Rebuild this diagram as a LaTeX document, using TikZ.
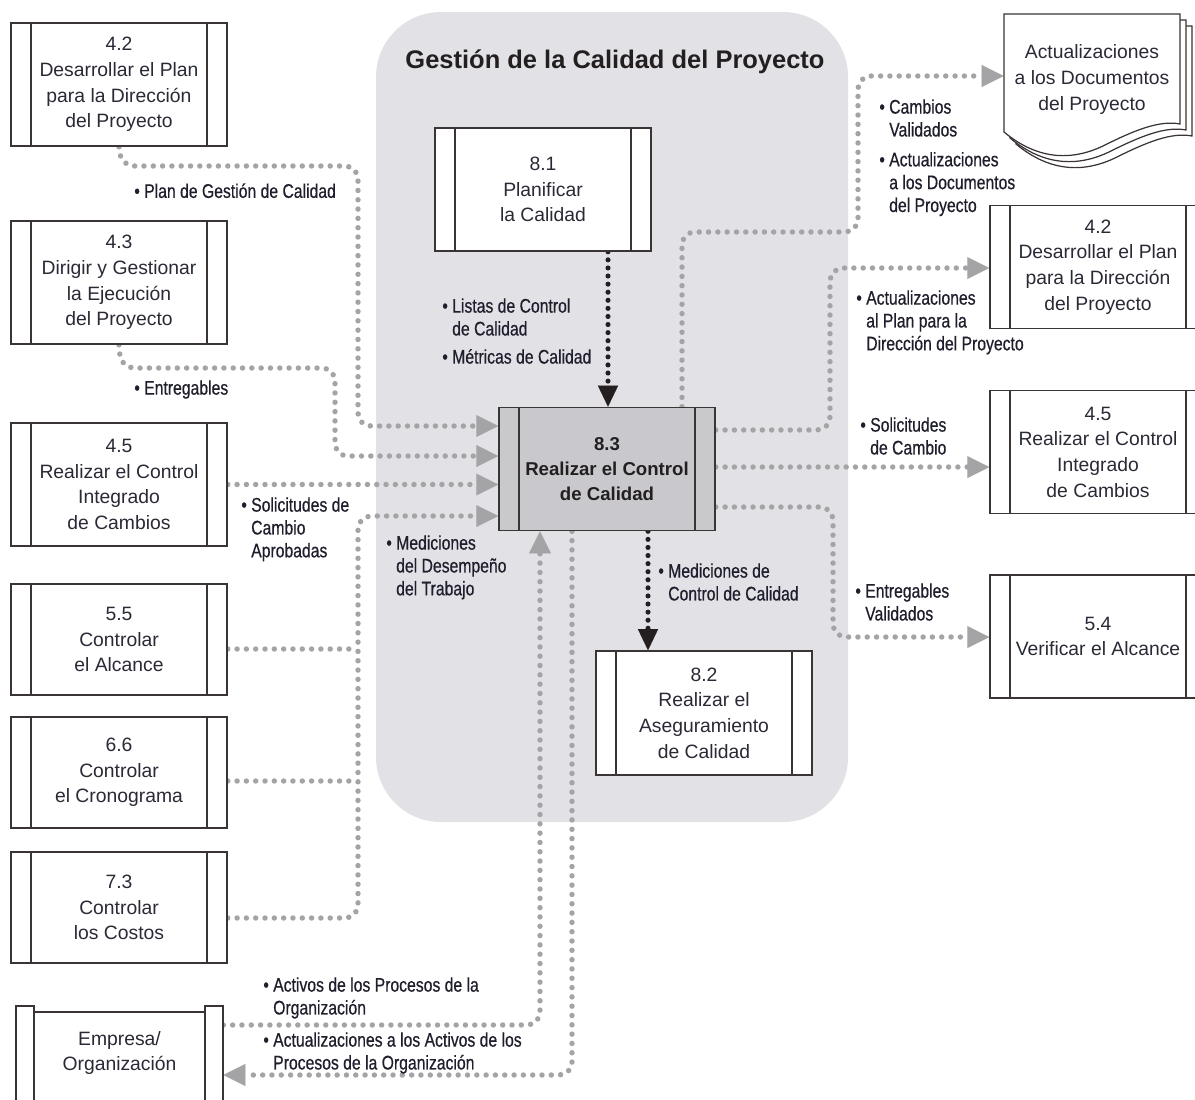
\documentclass[tikz,border=0pt]{standalone}
\usepackage{fontspec}
\setmainfont{Liberation Sans}
\newfontfamily\narrowfont[FakeStretch=0.8,FakeBold=0.5]{Liberation Sans}
\usetikzlibrary{arrows.meta,calc}

\definecolor{panelc}{HTML}{E2E2E6}
\definecolor{dotc}{HTML}{A4A4A7}
\definecolor{linec}{HTML}{3A3434}
\definecolor{txtc}{HTML}{2A2A36}
\definecolor{lblc}{HTML}{1E1E2C}
\definecolor{keyc}{HTML}{C9C9CD}
\definecolor{blk}{HTML}{231F20}

\pgfdeclarelayer{back}
\pgfdeclarelayer{flows}
\pgfsetlayers{back,flows,main}

\begin{document}
\begin{tikzpicture}[x=0.02cm,y=-0.02cm,
  proc/.style={draw=linec, line width=0.9pt, fill=white, align=center, inner sep=0pt,
    minimum width=4.32cm, minimum height=2.46cm, text=txtc,
    font=\fontsize{11}{14.6}\selectfont,
    path picture={
      \draw[linec, line width=0.9pt]
        ([xshift=0.4cm]path picture bounding box.north west) -- ([xshift=0.4cm]path picture bounding box.south west)
        ([xshift=-0.4cm]path picture bounding box.north east) -- ([xshift=-0.4cm]path picture bounding box.south east);
    }},
  shortbox/.style={minimum height=2.22cm},
  keybox/.style={fill=keyc, text=blk, font=\fontsize{10.6}{14.4}\selectfont\bfseries},
  lbl/.style={font=\narrowfont\fontsize{11.2}{13}\selectfont, text=lblc, align=left,
    inner sep=0pt, anchor=north west},
  gflow/.style={draw=dotc, line width=3.1pt, line cap=round,
    dash pattern=on 0pt off 5.3pt, rounded corners=0.26cm},
  garrow/.style={gflow, -{Triangle[length=12.5pt,width=12.5pt,line width=0.01pt]}},
  bflow/.style={draw=blk, line width=2.9pt, line cap=round,
    dash pattern=on 0pt off 4.6pt, -{Triangle[length=12pt,width=11.5pt,line width=0.01pt]}},
  pagec/.style={draw=linec, line width=0.7pt, fill=white}
]
\clip (0,0) rectangle (1195,1099);

\begin{pgfonlayer}{back}
  \fill[white] (0,0) rectangle (1195,1099);
  \fill[panelc, rounded corners=1.3cm] (376,12) rectangle (848,822);
\end{pgfonlayer}

% title of the knowledge area
\node[font=\fontsize{14.5}{17}\selectfont\bfseries, text=blk] (title) at (615,62)
  {Gestión de la Calidad del Proyecto};

% processes on the left
\node[proc] (l42) at (119,84.5) {4.2\\Desarrollar el Plan\\para la Dirección\\del Proyecto};
\node[proc] (l43) at (119,282.5) {4.3\\Dirigir y Gestionar\\la Ejecución\\del Proyecto};
\node[proc] (l45) at (119,484.5) {4.5\\Realizar el Control\\Integrado\\de Cambios};
\node[proc, shortbox] (l55) at (119,639.5) {5.5\\Controlar\\el Alcance};
\node[proc, shortbox] (l66) at (119,772.5) {6.6\\Controlar\\el Cronograma};
\node[proc, shortbox] (l73) at (119,907.5) {7.3\\Controlar\\los Costos};

% enterprise box with raised side bars
\draw[linec, line width=0.9pt, fill=white] (34,1012) rectangle (205,1120);
\draw[linec, line width=0.9pt, fill=white] (16,1006) rectangle (34,1120);
\draw[linec, line width=0.9pt, fill=white] (205,1006) rectangle (223,1120);
\node[inner sep=0pt, minimum width=4.14cm, minimum height=2cm, align=center, text=txtc,
  font=\fontsize{11}{14.6}\selectfont] (emp) at (119.5,1053) {Empresa/\\Organización};

% processes inside the area
\node[proc] (p81) at (543,189.5) {8.1\\Planificar\\la Calidad};
\node[proc, keybox] (q) at (607,469) {8.3\\Realizar el Control\\de Calidad};
\node[proc, minimum height=2.48cm] (p82) at (704,713) {8.2\\Realizar el\\Aseguramiento\\de Calidad};

% stacked project documents
\foreach \d in {12,6,0}{
  \draw[pagec] (1004+\d,14+\d) -- (1180+\d,14+\d) -- (1180+\d,124+\d)
    .. controls (1160+\d,120+\d) and (1135+\d,130+\d) .. (1105+\d,145+\d)
    .. controls (1075+\d,160+\d) and (1040+\d,162+\d) .. (1004+\d,132+\d) -- cycle;
}
\node[inner sep=0pt, minimum width=3.52cm, minimum height=2.8cm, align=center, text=txtc,
  font=\fontsize{11}{14.6}\selectfont] (doc) at (1092,79.5)
  {Actualizaciones\\a los Documentos\\del Proyecto};

% processes on the right
\node[proc] (r42) at (1098,267) {4.2\\Desarrollar el Plan\\para la Dirección\\del Proyecto};
\node[proc] (r45) at (1098,452) {4.5\\Realizar el Control\\Integrado\\de Cambios};
\node[proc] (r54) at (1098,636.5) {5.4\\Verificar el Alcance};

% data flows
\begin{pgfonlayer}{flows}
  \draw[garrow] (l42.south) -- (121,166) -- (358,166) -- (358,426) -- (q.west |- 0,426);
  \draw[garrow] (l43.south) -- (121,368) -- (335,368) -- (335,456) -- (q.west |- 0,456);
  \draw[garrow] (l45.east) -- (q.west |- l45.east);
  \draw[gflow] (l55.east |- 0,649) -- (356,649);
  \draw[gflow] (l66.east |- 0,781) -- (356,781);
  \draw[garrow] (l73.east |- 0,918) -- (358,918) -- (358,516) -- (q.west |- 0,516);
  \draw[garrow] (emp.east |- 0,1025) -- (540,1025) -- (q.south -| 540,0);
  \draw[garrow] (q.south -| 572,0) -- (572,1075) -- (emp.east |- 0,1075);
  \draw[garrow] (q.north -| 682,0) -- (682,232) -- (858,232) -- (858,76) -- (doc.west |- 0,76);
  \draw[garrow] (q.east |- 0,430) -- (830,430) -- (830,268) -- (r42.west |- 0,268);
  \draw[garrow] (q.east |- 0,467) -- (r45.west |- 0,467);
  \draw[garrow] (q.east |- 0,507) -- (833,507) -- (833,637) -- (r54.west |- 0,637);
  \draw[bflow] (p81.south -| 608,0) -- (q.north -| 608,0);
  \draw[bflow] (q.south -| 648,0) -- (p82.north -| 648,0);
\end{pgfonlayer}

% flow labels
\newcommand\hang{\hphantom{\textbullet\ }}
\node[lbl] (t1) at (134,183) {\textbullet\ Plan de Gestión de Calidad};
\node[lbl] (t2) at (134,380) {\textbullet\ Entregables};
\node[lbl] (t3) at (241,497) {\textbullet\ Solicitudes de\\\hang Cambio\\\hang Aprobadas};
\node[lbl] (t4) at (442,298) {\textbullet\ Listas de Control\\\hang de Calidad\\[3pt]\textbullet\ Métricas de Calidad};
\node[lbl] (t5) at (386,535) {\textbullet\ Mediciones\\\hang del Desempeño\\\hang del Trabajo};
\node[lbl] (t6) at (658,563) {\textbullet\ Mediciones de\\\hang Control de Calidad};
\node[lbl] (t7) at (879,99) {\textbullet\ Cambios\\\hang Validados\\[4pt]\textbullet\ Actualizaciones\\\hang a los Documentos\\\hang del Proyecto};
\node[lbl] (t8) at (856,290) {\textbullet\ Actualizaciones\\\hang al Plan para la\\\hang Dirección del Proyecto};
\node[lbl] (t9) at (860,417) {\textbullet\ Solicitudes\\\hang de Cambio};
\node[lbl] (t10) at (855,583) {\textbullet\ Entregables\\\hang Validados};
\node[lbl] (t11) at (263,977) {\textbullet\ Activos de los Procesos de la\\\hang Organización};
\node[lbl] (t12) at (263,1032) {\textbullet\ Actualizaciones a los Activos de los\\\hang Procesos de la Organización};
\end{tikzpicture}
\end{document}
